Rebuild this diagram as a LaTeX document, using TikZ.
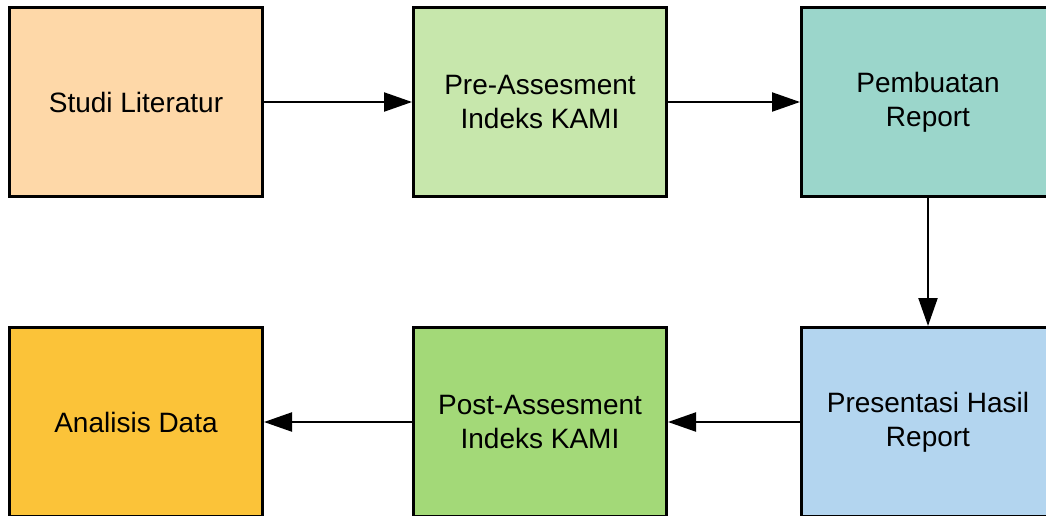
\documentclass[tikz,border=0pt]{standalone}
\usepackage{fontspec}
\setmainfont{Liberation Sans}
\usetikzlibrary{positioning,arrows.meta}

\definecolor{litorange}{HTML}{FED8A8}
\definecolor{preassgreen}{HTML}{C7E7AC}
\definecolor{reportteal}{HTML}{9BD6CB}
\definecolor{presblue}{HTML}{B3D5EF}
\definecolor{postassgreen}{HTML}{A3D978}
\definecolor{datayellow}{HTML}{FBC339}

\begin{document}
\begin{tikzpicture}[x=1pt,y=1pt]
			\tikzset{stepbox/.style={draw=black,line width=3pt,minimum width=253pt,minimum height=189pt,align=center,font=\fontsize{28}{34}\selectfont,inner sep=0pt}}
			\tikzset{flow/.style={line width=2.2pt,-{Triangle[length=28pt,width=19pt]}}}
			\useasboundingbox (0,0) rectangle (1046,-515);
			\node[stepbox,fill=litorange] (studi) at (136,-102) {Studi Literatur};
			\node[stepbox,fill=preassgreen,right=148pt of studi] (preass) {Pre-Assesment\\Indeks KAMI};
			\node[stepbox,fill=reportteal,right=132pt of preass] (report) {Pembuatan\\Report};
			\node[stepbox,fill=presblue,below=128pt of report] (presentasi) {Presentasi Hasil\\Report};
			\node[stepbox,fill=postassgreen,left=132pt of presentasi] (postass) {Post-Assesment\\Indeks KAMI};
			\node[stepbox,fill=datayellow,left=148pt of postass] (analisis) {Analisis Data};
			\draw[flow] (studi) -- (preass);
			\draw[flow] (preass) -- (report);
			\draw[flow] (report) -- (presentasi);
			\draw[flow] (presentasi) -- (postass);
			\draw[flow] (postass) -- (analisis);
		\end{tikzpicture}
\end{document}
